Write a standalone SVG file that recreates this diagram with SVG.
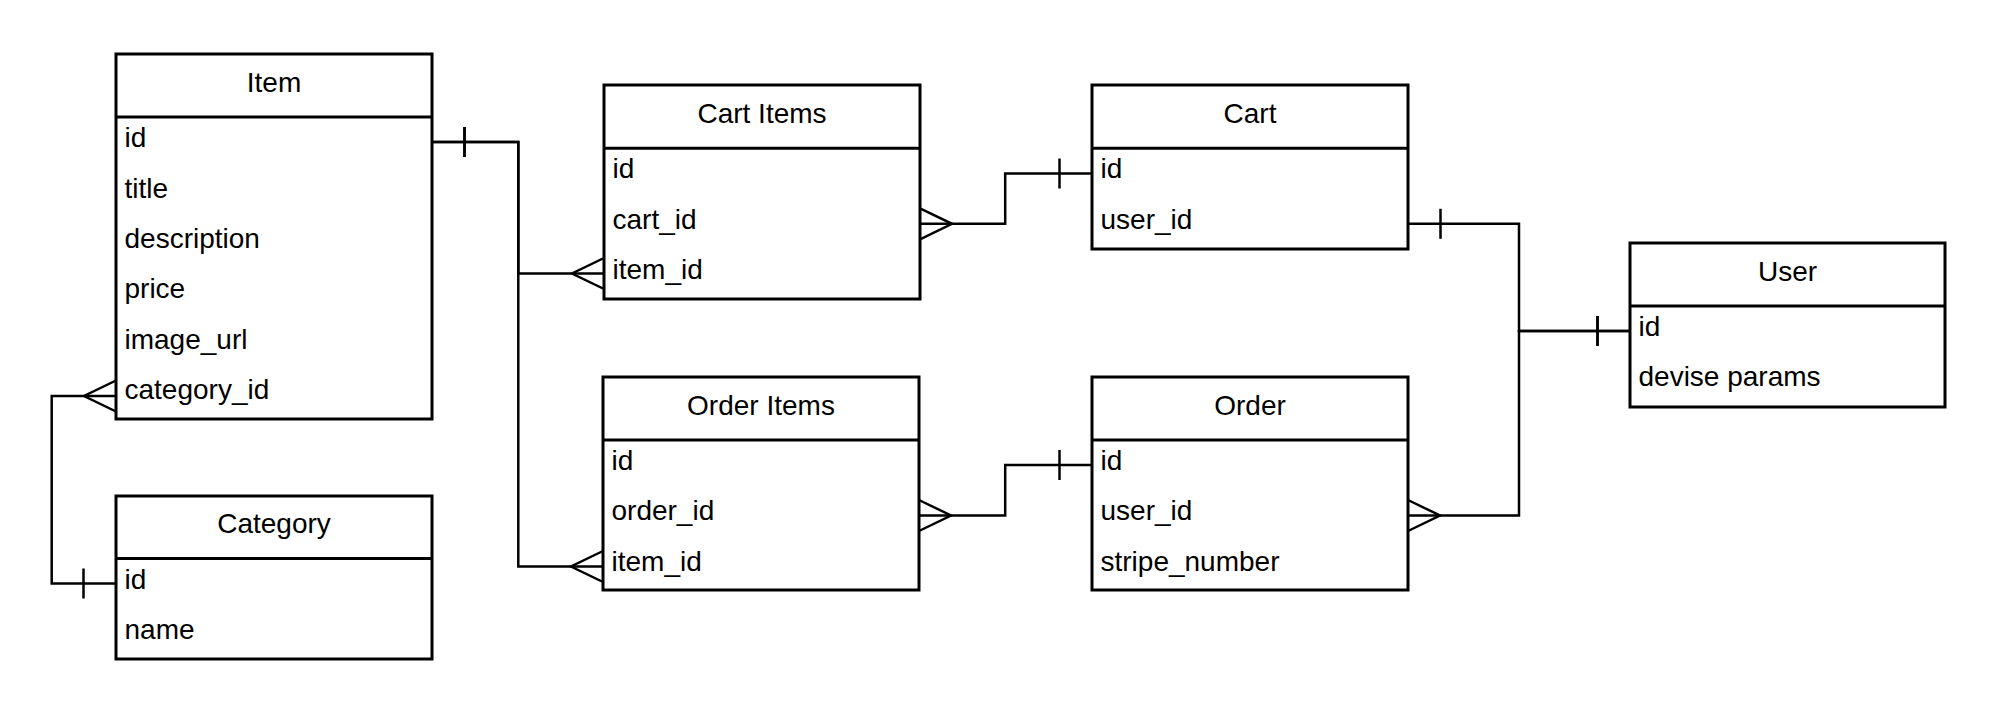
<svg xmlns="http://www.w3.org/2000/svg" width="2014" height="712" viewBox="0 0 2014 712">
<style>
.box{fill:#fff;stroke:#000;stroke-width:3}
.sep{stroke:#000;stroke-width:3;fill:none}
.title{font-family:"Liberation Sans",Arial,sans-serif;font-size:28px;text-anchor:middle;fill:#000}
.field{font-family:"Liberation Sans",Arial,sans-serif;font-size:28px;fill:#000}
.edge{fill:none;stroke:#000;stroke-width:2.5;stroke-linejoin:miter}
.mk{fill:none;stroke:#000;stroke-width:2.5}
</style>
<defs>
<marker id="one" markerUnits="userSpaceOnUse" orient="auto-start-reverse" overflow="visible" markerWidth="1" markerHeight="1" refX="0" refY="0"><path class="mk" d="M-32.5,-15V15"/></marker>
<marker id="many" markerUnits="userSpaceOnUse" orient="auto-start-reverse" overflow="visible" markerWidth="1" markerHeight="1" refX="0" refY="0"><path class="mk" d="M0,-15.5L-32,0L0,15.5"/></marker>
</defs>
<rect width="2014" height="712" fill="#fff"/>

<g id="connectors">
<path class="edge" d="M432,142H518.3V273.5H604" marker-start="url(#one)" marker-end="url(#many)"/>
<path class="edge" d="M432,142H518.3V566.5H603" marker-start="url(#one)" marker-end="url(#many)"/>
<path class="edge" d="M116,583.5H51.7V396H116" marker-start="url(#one)" marker-end="url(#many)"/>
<path class="edge" d="M920,223.8H1005.2V173.5H1092" marker-start="url(#many)" marker-end="url(#one)"/>
<path class="edge" d="M919,515.5H1005.2V465H1092" marker-start="url(#many)" marker-end="url(#one)"/>
<path class="edge" d="M1408,223.8H1519V331H1630" marker-start="url(#one)" marker-end="url(#one)"/>
<path class="edge" d="M1408,515.5H1519V331H1630" marker-start="url(#many)" marker-end="url(#one)"/>
</g>

<g id="item">
<rect class="box" x="116" y="54" width="316" height="365"/>
<line class="sep" x1="116" y1="117" x2="432" y2="117"/>
<text class="title" x="274" y="92">Item</text>
<text class="field" x="124.5" y="147.3">id</text>
<text class="field" x="124.5" y="197.6">title</text>
<text class="field" x="124.5" y="248">description</text>
<text class="field" x="124.5" y="298.3">price</text>
<text class="field" x="124.5" y="348.6">image_url</text>
<text class="field" x="124.5" y="399">category_id</text>
</g>

<g id="category">
<rect class="box" x="116" y="496" width="316" height="163"/>
<line class="sep" x1="116" y1="558.5" x2="432" y2="558.5"/>
<text class="title" x="274" y="533">Category</text>
<text class="field" x="124.5" y="588.5">id</text>
<text class="field" x="124.5" y="639">name</text>
</g>

<g id="cart-items">
<rect class="box" x="604" y="85" width="316" height="214"/>
<line class="sep" x1="604" y1="148.3" x2="920" y2="148.3"/>
<text class="title" x="762" y="122.5">Cart Items</text>
<text class="field" x="612.5" y="178.3">id</text>
<text class="field" x="612.5" y="228.6">cart_id</text>
<text class="field" x="612.5" y="279">item_id</text>
</g>

<g id="cart">
<rect class="box" x="1092" y="85" width="316" height="164"/>
<line class="sep" x1="1092" y1="148.3" x2="1408" y2="148.3"/>
<text class="title" x="1250" y="122.5">Cart</text>
<text class="field" x="1100.5" y="178.3">id</text>
<text class="field" x="1100.5" y="228.6">user_id</text>
</g>

<g id="order-items">
<rect class="box" x="603" y="377" width="316" height="213"/>
<line class="sep" x1="603" y1="440" x2="919" y2="440"/>
<text class="title" x="761" y="414.5">Order Items</text>
<text class="field" x="611.5" y="470">id</text>
<text class="field" x="611.5" y="520.3">order_id</text>
<text class="field" x="611.5" y="570.6">item_id</text>
</g>

<g id="order">
<rect class="box" x="1092" y="377" width="316" height="213"/>
<line class="sep" x1="1092" y1="440" x2="1408" y2="440"/>
<text class="title" x="1250" y="414.5">Order</text>
<text class="field" x="1100.5" y="470">id</text>
<text class="field" x="1100.5" y="520.3">user_id</text>
<text class="field" x="1100.5" y="570.6">stripe_number</text>
</g>

<g id="user">
<rect class="box" x="1630" y="243" width="315" height="164"/>
<line class="sep" x1="1630" y1="306" x2="1945" y2="306"/>
<text class="title" x="1787.5" y="280.5">User</text>
<text class="field" x="1638.5" y="336">id</text>
<text class="field" x="1638.5" y="386.3">devise params</text>
</g>
</svg>
